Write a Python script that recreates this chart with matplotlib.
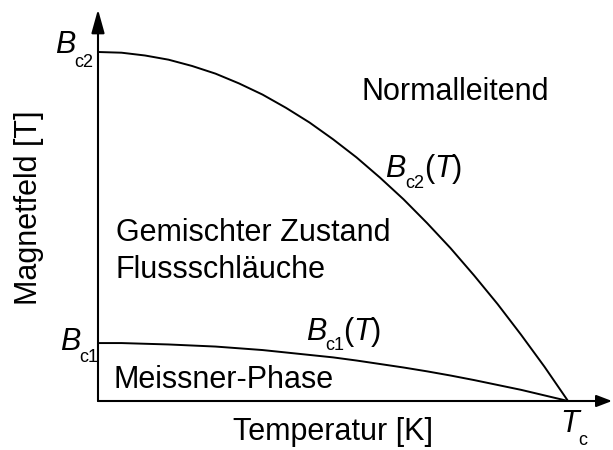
import matplotlib
matplotlib.use('Agg')
import matplotlib.pyplot as plt

plt.rcParams['font.family'] = ['Liberation Sans', 'DejaVu Sans']

# Reduced temperature T/Tc and the two critical fields (in units of Bc2(0))
t_vals = [0.0, 0.05, 0.1, 0.15, 0.2, 0.25, 0.3, 0.35, 0.4, 0.45, 0.5,
          0.55, 0.6, 0.65, 0.7, 0.75, 0.8, 0.85, 0.9, 0.95, 1.0]
bc2_vals = [1.000, 0.998, 0.990, 0.978, 0.960, 0.938, 0.910, 0.878, 0.840, 0.798, 0.750,
            0.698, 0.640, 0.578, 0.510, 0.438, 0.360, 0.278, 0.190, 0.098, 0.0]
bc1_vals = [0.166, 0.166, 0.164, 0.162, 0.159, 0.156, 0.151, 0.146, 0.139, 0.132, 0.125,
            0.116, 0.106, 0.096, 0.085, 0.073, 0.060, 0.046, 0.032, 0.016, 0.0]

W, H = 613, 450
fig = plt.figure(figsize=(W / 100, H / 100), dpi=100)
ax = fig.add_axes([0, 0, 1, 1])
ax.set_xlim(-0.2085, 1.0957)
ax.set_ylim(-0.1404, 1.1490)
ax.axis('off')

# axes with arrow heads
ax.annotate('', xy=(0, 1.122), xytext=(0, 0),
            arrowprops=dict(arrowstyle='-|>,head_length=0.72,head_width=0.2',
                            mutation_scale=20, lw=1.5, color='black',
                            shrinkA=0, shrinkB=0))
ax.annotate('', xy=(1.0936, 0), xytext=(0, 0),
            arrowprops=dict(arrowstyle='-|>,head_length=0.47,head_width=0.18',
                            mutation_scale=20, lw=1.5, color='black',
                            shrinkA=0, shrinkB=0))

ax.plot(t_vals, bc2_vals, color='black', lw=1.4, solid_capstyle='butt')
ax.plot(t_vals, bc1_vals, color='black', lw=1.4, solid_capstyle='butt')


def label(x, y, s, size=22, style='normal', **kw):
    # place text by pixel position (y measured from the top)
    fig.text(x / W, 1 - y / H, s, fontsize=size, style=style,
             va='baseline', ha='left', **kw)


def field(x, y, sub, sub_dx, sub_dy, with_t=False, t_dx=0):
    label(x, y, 'B', style='italic')
    label(x + sub_dx, y + sub_dy, sub, size=13)
    if with_t:
        label(x + t_dx, y, '(', )
        label(x + t_dx + 10, y, 'T', style='italic')
        label(x + t_dx + 28, y, ')')


# axis labels at the critical values
field(55, 53, 'c2', 19, 14)
field(60, 350, 'c1', 19, 12)
label(560, 432, 'T', style='italic')
label(578, 445, 'c', size=13)

# curve labels
field(385, 177, 'c2', 20, 11, with_t=True, t_dx=39)
field(306, 340, 'c1', 19, 10, with_t=True, t_dx=37)

# phase regions
label(362, 100, 'Normalleitend')
label(116, 241, 'Gemischter Zustand')
label(116, 278, 'Flussschläuche')
label(113, 388, 'Meissner-Phase')

label(233, 440, 'Temperatur [K]')
fig.text(37 / W, 1 - 208 / H, 'Magnetfeld [T]', fontsize=22, rotation=90,
         ha='center', va='baseline', rotation_mode='anchor')

fig.savefig('out.png', dpi=100)
